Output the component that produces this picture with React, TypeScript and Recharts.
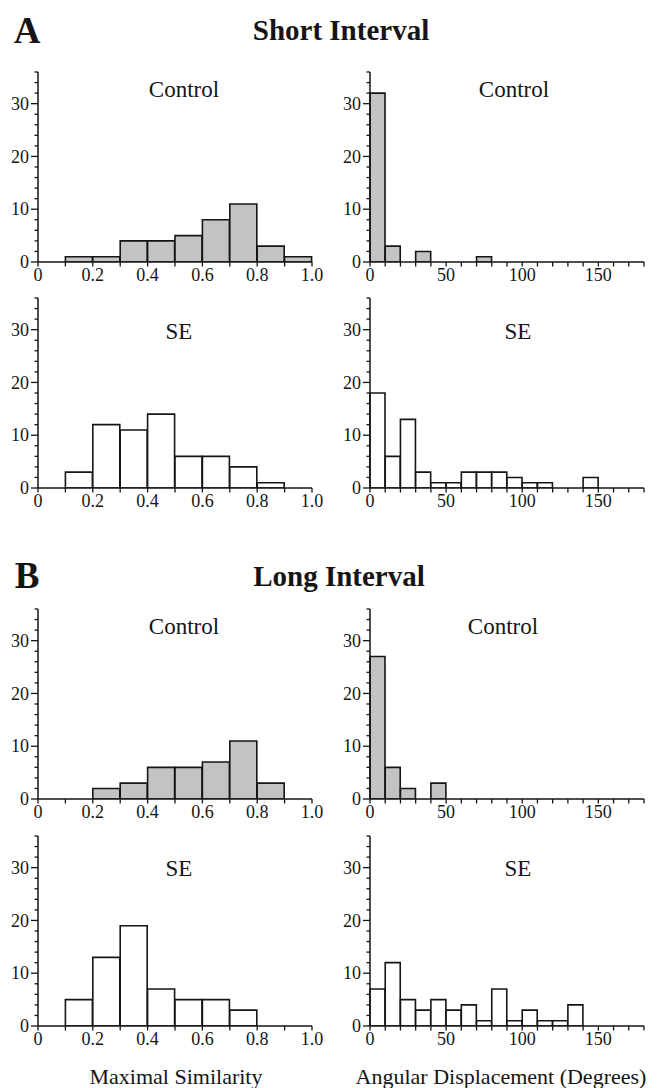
import { Bar, ComposedChart, Line, XAxis, YAxis } from 'recharts';

// bins: similarity 0.0–1.0 in steps of 0.1, angle 0–180 in steps of 10
const simBins = ['0.0', '0.1', '0.2', '0.3', '0.4', '0.5', '0.6', '0.7', '0.8', '0.9'];
const simMids = [0.05, 0.15, 0.25, 0.35, 0.45, 0.55, 0.65, 0.75, 0.85, 0.95];
const angBins = ['0', '10', '20', '30', '40', '50', '60', '70', '80', '90', '100', '110', '120', '130', '140', '150', '160', '170'];
const angMids = [5, 15, 25, 35, 45, 55, 65, 75, 85, 95, 105, 115, 125, 135, 145, 155, 165, 175];

const shortControlSim = [0, 1, 1, 4, 4, 5, 8, 11, 3, 1];
const shortSESim = [0, 3, 12, 11, 14, 6, 6, 4, 1, 0];
const shortControlAng = [32, 3, 0, 2, 0, 0, 0, 1, 0, 0, 0, 0, 0, 0, 0, 0, 0, 0];
const shortSEAng = [18, 6, 13, 3, 1, 1, 3, 3, 3, 2, 1, 1, 0, 0, 2, 0, 0, 0];

const longControlSim = [0, 0, 2, 3, 6, 6, 7, 11, 3, 0];
const longSESim = [0, 5, 13, 19, 7, 5, 5, 3, 0, 0];
const longControlAng = [27, 6, 2, 0, 3, 0, 0, 0, 0, 0, 0, 0, 0, 0, 0, 0, 0, 0];
const longSEAng = [7, 12, 5, 3, 5, 3, 4, 1, 7, 1, 3, 1, 1, 4, 0, 0, 0, 0];

const simTicks = [0, 0.1, 0.2, 0.3, 0.4, 0.5, 0.6, 0.7, 0.8, 0.9, 1.0];
const simLabels = [0, 0.2, 0.4, 0.6, 0.8, 1.0];
const angTicks = [0, 10, 20, 30, 40, 50, 60, 70, 80, 90, 100, 110, 120, 130, 140, 150, 160, 170, 180];
const angLabels = [0, 50, 100, 150];
const countTicks = [0, 2, 4, 6, 8, 10, 12, 14, 16, 18, 20, 22, 24, 26, 28, 30, 32, 34, 36];
const countLabels = [0, 10, 20, 30];

const INK = '#151515';
const GRAY = '#c3c3c3';
const FONT = '"Liberation Serif", "DejaVu Serif", serif';

const PLOT_W = 274;
const PLOT_H = 190;
const Y_W = 34;
const M_TOP = 10;
const M_RIGHT = 14;
const X_H = 30;

function CountTick({ x, y, payload }: any) {
  const major = countLabels.includes(payload.value);
  return (
    <g>
      <line x1={x} x2={x - (major ? 7 : 3.5)} y1={y} y2={y} stroke={INK} strokeWidth={1.3} />
      {major && (
        <text x={x - 9} y={y} dy="0.34em" textAnchor="end" fontSize={18} fontFamily={FONT} fill={INK}>
          {payload.value}
        </text>
      )}
    </g>
  );
}

function makeXTick(labels: number[], fmt: (v: number) => string) {
  return function XTick({ x, y, payload }: any) {
    const major = labels.some((l) => Math.abs(l - payload.value) < 1e-9);
    return (
      <g>
        <line x1={x} x2={x} y1={y} y2={y + 4.5} stroke={INK} strokeWidth={1.3} />
        {major && (
          <text x={x} y={y + 19} textAnchor="middle" fontSize={18} fontFamily={FONT} fill={INK}>
            {fmt(payload.value)}
          </text>
        )}
      </g>
    );
  };
}

const SimTick = makeXTick(simLabels, (v) => (v === 0 ? '0' : v.toFixed(1)));
const AngTick = makeXTick(angLabels, (v) => String(v));

interface PanelProps {
  plotLeft: number;
  plotTop: number;
  counts: number[];
  kind: 'sim' | 'ang';
  fill: string;
}

function Panel({ plotLeft, plotTop, counts, kind, fill }: PanelProps) {
  const isSim = kind === 'sim';
  const bins = isSim ? simBins : angBins;
  const mids = isSim ? simMids : angMids;
  const data = bins.map((bin, i) => ({ bin, mid: mids[i], count: counts[i] }));
  return (
    <div style={{ position: 'absolute', left: plotLeft - Y_W, top: plotTop - M_TOP }}>
      <ComposedChart
        width={Y_W + PLOT_W + M_RIGHT}
        height={M_TOP + PLOT_H + X_H}
        data={data}
        margin={{ top: M_TOP, right: M_RIGHT, left: 0, bottom: 0 }}
        barCategoryGap={0}
        barGap={0}
      >
        <XAxis xAxisId="cat" dataKey="bin" hide height={0} />
        <XAxis
          xAxisId="num"
          dataKey="mid"
          type="number"
          domain={isSim ? [0, 1] : [0, 180]}
          allowDataOverflow
          ticks={isSim ? simTicks : angTicks}
          interval={0}
          height={X_H}
          tickSize={0}
          tickMargin={0}
          tickLine={false}
          axisLine={{ stroke: INK, strokeWidth: 1.5 }}
          tick={isSim ? <SimTick /> : <AngTick />}
        />
        <YAxis
          type="number"
          domain={[0, 36]}
          allowDataOverflow
          ticks={countTicks}
          interval={0}
          width={Y_W}
          tickSize={0}
          tickMargin={0}
          tickLine={false}
          axisLine={{ stroke: INK, strokeWidth: 1.5 }}
          tick={<CountTick />}
        />
        <Bar
          xAxisId="cat"
          dataKey="count"
          fill={fill}
          stroke={INK}
          strokeWidth={1.6}
          isAnimationActive={false}
        />
        {/* invisible series so the numeric axis gets a scale */}
        <Line
          xAxisId="num"
          dataKey="count"
          stroke="none"
          dot={false}
          activeDot={false}
          isAnimationActive={false}
        />
      </ComposedChart>
    </div>
  );
}

function Label({ x, y, text, size, bold }: { x: number; y: number; text: string; size: number; bold?: boolean }) {
  return (
    <div
      style={{
        position: 'absolute',
        left: x,
        top: y,
        transform: 'translate(-50%, -50%)',
        fontFamily: FONT,
        fontSize: size,
        fontWeight: bold ? 700 : 400,
        lineHeight: 1,
        whiteSpace: 'nowrap',
        color: INK,
      }}
    >
      {text}
    </div>
  );
}

export default function App() {
  return (
    <div style={{ position: 'absolute', left: 0, top: 0, width: 663, height: 1088, background: '#fff' }}>
      <Label x={27} y={30} text="A" size={37} bold />
      <Label x={341} y={30} text="Short Interval" size={29} bold />
      <Panel plotLeft={38} plotTop={72} counts={shortControlSim} kind="sim" fill={GRAY} />
      <Panel plotLeft={370} plotTop={72} counts={shortControlAng} kind="ang" fill={GRAY} />
      <Label x={184} y={89} text="Control" size={23} />
      <Label x={514} y={89} text="Control" size={23} />
      <Panel plotLeft={38} plotTop={298} counts={shortSESim} kind="sim" fill="#fff" />
      <Panel plotLeft={370} plotTop={298} counts={shortSEAng} kind="ang" fill="#fff" />
      <Label x={179} y={331} text="SE" size={23} />
      <Label x={518} y={331} text="SE" size={23} />

      <Label x={27} y={575} text="B" size={37} bold />
      <Label x={339} y={576} text="Long Interval" size={29} bold />
      <Panel plotLeft={38} plotTop={609} counts={longControlSim} kind="sim" fill={GRAY} />
      <Panel plotLeft={370} plotTop={609} counts={longControlAng} kind="ang" fill={GRAY} />
      <Label x={184} y={626} text="Control" size={23} />
      <Label x={503} y={626} text="Control" size={23} />
      <Panel plotLeft={38} plotTop={836} counts={longSESim} kind="sim" fill="#fff" />
      <Panel plotLeft={370} plotTop={836} counts={longSEAng} kind="ang" fill="#fff" />
      <Label x={179} y={868} text="SE" size={23} />
      <Label x={518} y={868} text="SE" size={23} />

      <Label x={176} y={1077} text="Maximal Similarity" size={22} />
      <Label x={501} y={1077} text="Angular Displacement (Degrees)" size={22} />
    </div>
  );
}
